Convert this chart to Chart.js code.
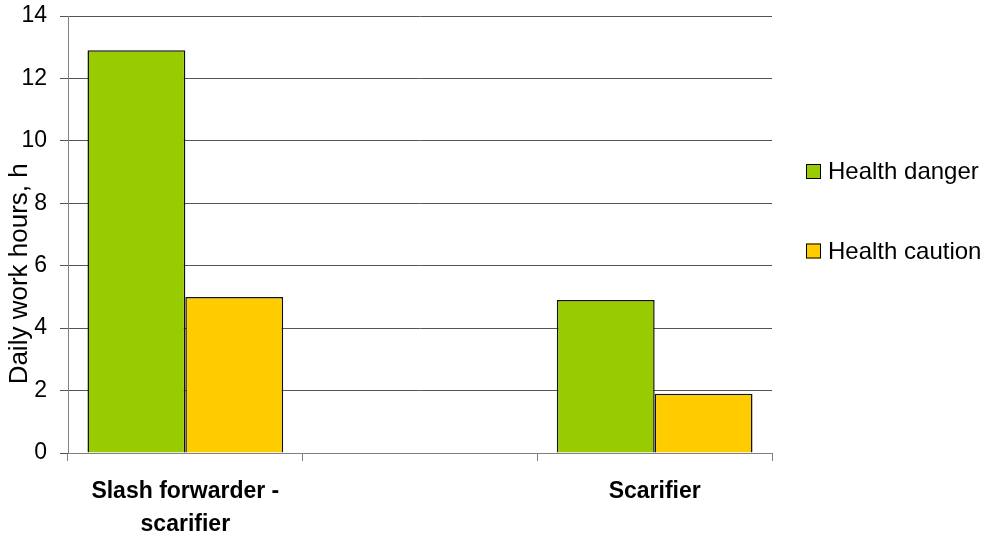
<!DOCTYPE html>
<html>
<head>
<meta charset="utf-8">
<script src="https://cdn.jsdelivr.net/npm/chart.js@4.4.0/dist/chart.umd.min.js"></script>
<style>
  html, body { margin: 0; padding: 0; background: #fff; }
  #wrap { width: 983px; height: 533px; }
</style>
</head>
<body>
<div id="wrap"><canvas id="hoursChart"></canvas></div>
<script>
// categories (middle one is an empty slot, as in the original)
const machines = [['Slash forwarder -', 'scarifier'], '', 'Scarifier'];
const dangerHours = [12.9, null, 4.9];
const cautionHours = [5.0, null, 1.9];
const seriesNames = ['Health danger', 'Health caution'];
const seriesColors = ['#99CC00', '#FFCC00'];
const yTitle = 'Daily work hours, h';

const FONT = "'Liberation Sans', Arial, sans-serif";

// legend on the right and the y title (sits a bit low, like the original)
const sideText = {
  id: 'sideText',
  afterDraw(chart) {
    const ctx = chart.ctx;
    const area = chart.chartArea;
    const x = area.right + 34;
    const rows = [171.5, 251];
    ctx.save();
    chart.data.datasets.forEach(function(ds, i) {
      const y = rows[i];
      ctx.fillStyle = ds.backgroundColor;
      ctx.fillRect(x, y - 7.5, 15, 15);
      ctx.strokeStyle = '#000';
      ctx.lineWidth = 1;
      ctx.strokeRect(x + 0.5, y - 7, 14, 14);
      ctx.fillStyle = '#000';
      ctx.font = '24px ' + FONT;
      ctx.textBaseline = 'middle';
      ctx.textAlign = 'left';
      ctx.fillText(ds.label, x + 22, y + 1);
    });

    ctx.translate(20, area.top + (area.bottom - area.top) * 0.59);
    ctx.rotate(-Math.PI / 2);
    ctx.font = '26px ' + FONT;
    ctx.textAlign = 'center';
    ctx.textBaseline = 'middle';
    ctx.fillStyle = '#000';
    ctx.fillText(yTitle, 0, 0);
    ctx.restore();
  }
};

function createChart() {
  const data = {
    labels: machines,
    datasets: [{
      label: seriesNames[0],
      data: dangerHours,
      backgroundColor: seriesColors[0],
      borderColor: '#111',
      borderWidth: 1.5
    }, {
      label: seriesNames[1],
      data: cautionHours,
      backgroundColor: seriesColors[1],
      borderColor: '#111',
      borderWidth: 1.5
    }]
  };

  const config = {
    type: 'bar',
    data,
    options: {
      responsive: true,
      maintainAspectRatio: false,
      animation: false,
      layout: { padding: { top: 16, right: 211, left: 0, bottom: 0 } },
      datasets: {
        bar: { categoryPercentage: 0.834, barPercentage: 1.0 }
      },
      plugins: {
        legend: { display: false },
        tooltip: { enabled: false }
      },
      scales: {
        x: {
          grid: {
            offset: true,
            drawOnChartArea: false,
            drawTicks: true,
            tickLength: 8,
            color: '#808080'
          },
          border: { color: '#808080' },
          ticks: {
            color: '#000',
            padding: 15,
            maxRotation: 0,
            autoSkip: false,
            font: { family: FONT, size: 23, weight: 'bold', lineHeight: 1.4 }
          },
          afterFit: function(scale) { scale.height = 80; }
        },
        y: {
          min: 0,
          max: 14,
          ticks: {
            stepSize: 2,
            color: '#000',
            padding: 13,
            font: { family: FONT, size: 23 }
          },
          grid: {
            color: '#555',
            tickLength: 8
          },
          border: { color: '#808080' },
          afterFit: function(scale) {
            scale.width = 68;
            scale.paddingTop = 0;
            scale.paddingBottom = 0;
          }
        }
      }
    },
    plugins: [sideText]
  };

  new Chart(document.getElementById('hoursChart'), config);
}

createChart();
</script>
</body>
</html>
